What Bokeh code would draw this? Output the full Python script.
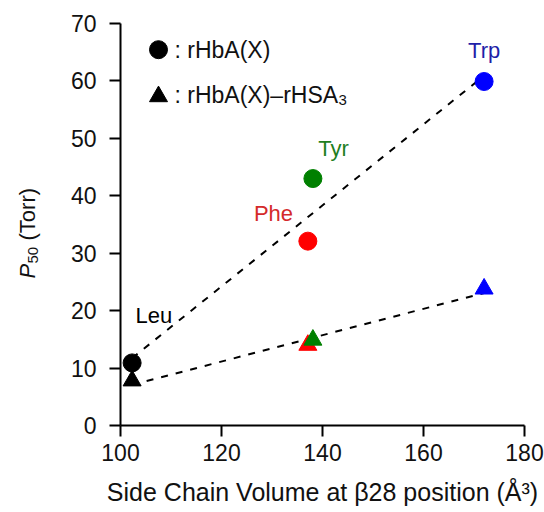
import numpy as np
from bokeh.plotting import figure
from bokeh.models import Range1d, FixedTicker, Label, ColumnDataSource
from bokeh.embed import file_html
from bokeh.resources import INLINE
from bokeh.core.properties import value

# ---------------- data ----------------
residues = ["Leu", "Phe", "Tyr", "Trp"]
volume = [102.3, 137.1, 138.1, 172.0]            # side chain volume (Å^3)
p50_rhba = [10.9, 32.1, 43.0, 59.9]              # rHbA(X)
p50_rhba_rhsa3 = [7.8, 14.0, 14.9, 23.8]         # rHbA(X)-rHSA3
x_ticks = [100, 120, 140, 160, 180]
y_ticks = [0, 10, 20, 30, 40, 50, 60, 70]

# ---------------- styles / layout ----------------
marker_colors = ["#000000", "#ff0000", "#008000", "#0000ff"]
text_colors = ["#000000", "#d42a2a", "#1f7f1f", "#1f1fa8"]
label_x = [106.6, 130.3, 142.2, 172.0]
label_y = [19.1, 36.9, 48.2, 65.3]

FONT = "Liberation Sans"
W, H = 544, 512
FL, FR, FT, FB = 120, 524, 23, 425
X0, X1, Y0, Y1 = 100, 180, 0, 70


def dx(px):
    return X0 + (px - FL) * (X1 - X0) / (FR - FL)


def dy(py):
    return Y0 + (FB - py) * (Y1 - Y0) / (FB - FT)


p = figure(width=W, height=H, x_range=Range1d(X0, X1), y_range=Range1d(Y0, Y1),
           output_backend="svg", toolbar_location=None,
           min_border_left=FL, min_border_right=W - FR,
           min_border_top=FT, min_border_bottom=H - FB)
p.outline_line_color = None
p.xgrid.visible = False
p.ygrid.visible = False
p.background_fill_color = "white"
p.border_fill_color = "white"

p.xaxis.ticker = FixedTicker(ticks=x_ticks)
p.yaxis.ticker = FixedTicker(ticks=y_ticks)
for ax in (p.xaxis, p.yaxis):
    ax.axis_line_width = 2
    ax.axis_line_color = "#000000"
    ax.major_tick_line_width = 2
    ax.major_tick_line_color = "#000000"
    ax.major_tick_out = 11
    ax.major_tick_in = 0
    ax.minor_tick_out = 0
    ax.minor_tick_in = 0
    ax.major_label_text_font = FONT
    ax.major_label_text_font_size = "23px"
    ax.major_label_text_color = "#111111"
p.xaxis.major_label_standoff = 7
p.yaxis.major_label_standoff = 13

p.xaxis.axis_label = "Side Chain Volume at β28 position (Å³)"
p.xaxis.axis_label_text_font = FONT
p.xaxis.axis_label_text_font_size = "25px"
p.xaxis.axis_label_text_font_style = "normal"
p.xaxis.axis_label_text_color = "#111111"
p.xaxis.axis_label_standoff = 14

# regression lines
for ys in (p50_rhba, p50_rhba_rhsa3):
    k, b = np.polyfit(volume, ys, 1)
    xs = [min(volume), max(volume)]
    p.line(xs, [k * x + b for x in xs], line_color="black", line_width=2,
           line_dash="7 8")

src = ColumnDataSource(dict(x=volume, y1=p50_rhba, y2=p50_rhba_rhsa3,
                            c=marker_colors))
p.scatter("x", "y2", source=src, marker="triangle", size=18,
          fill_color="c", line_color="c")
p.scatter("x", "y1", source=src, marker="circle", size=18,
          fill_color="c", line_color="c")

lab = ColumnDataSource(dict(x=label_x, y=label_y, t=residues, c=text_colors))
p.text("x", "y", text="t", source=lab, text_color="c", text_align="center",
       text_baseline="alphabetic", text_font=value(FONT),
       text_font_size="22px")

# legend (manual)
p.scatter([dx(158)], [dy(49.2)], marker="circle", size=18, color="black")
p.scatter([dx(158)], [dy(96)], marker="triangle", size=18, color="black")
LEG = dict(text_font=FONT, text_font_size="23px", text_color="#111111",
           text_align="left", text_baseline="alphabetic")
p.add_layout(Label(x=dx(174), y=dy(49), text=": rHbA(X)", **LEG))
p.add_layout(Label(x=dx(174), y=dy(94), text=": rHbA(X)–rHSA", **LEG))
p.add_layout(Label(x=dx(338), y=dy(99), text="3", text_font=FONT,
                   text_font_size="15px", text_color="#111111",
                   text_align="left", text_baseline="alphabetic"))

# y axis label: P (italic) + 50 (subscript) + (Torr), placed in the left panel
ROT = np.pi / 2
YL = dict(text_font=FONT, text_color="#111111", angle=ROT,
          text_align="left", text_baseline="alphabetic")
p.add_layout(Label(x=dx(26.5), y=dy(278), text="P", text_font_size="22px",
                   text_font_style="italic", **YL), "left")
p.add_layout(Label(x=dx(32), y=dy(263), text="50", text_font_size="15px", **YL), "left")
p.add_layout(Label(x=dx(26.5), y=dy(240), text="(Torr)", text_font_size="22px", **YL), "left")

open("out.html", "w").write(file_html(p, INLINE))
